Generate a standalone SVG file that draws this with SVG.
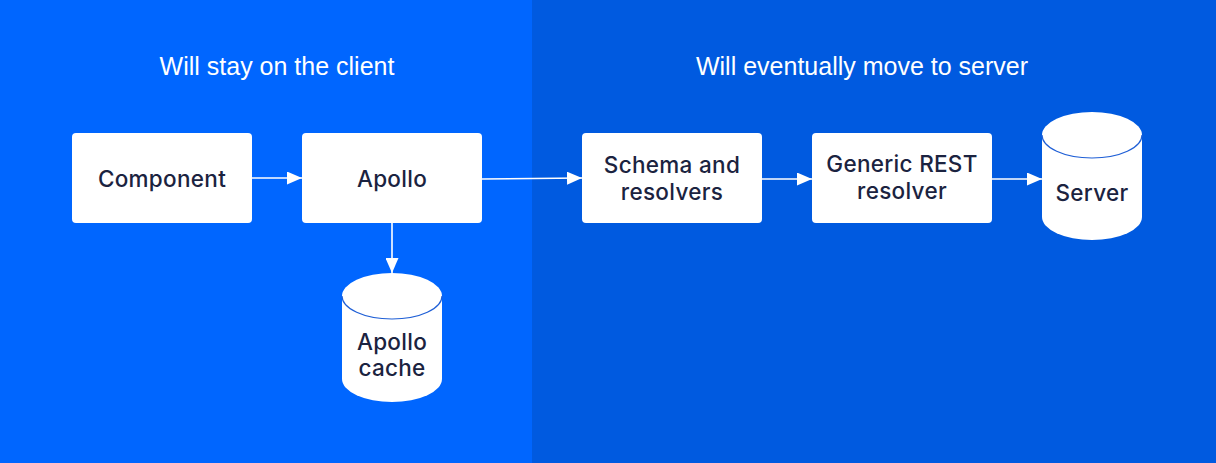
<svg xmlns="http://www.w3.org/2000/svg" width="1216" height="463" viewBox="0 0 1216 463">
<defs>
<style>
.hdr{font-family:"Liberation Sans",Arial,sans-serif;font-size:25px;fill:#ffffff;text-anchor:middle}
.lbl{font-family:Inter,"Liberation Sans",sans-serif;font-size:22.5px;letter-spacing:0.3px;font-weight:500;fill:#1b2340;text-anchor:middle}
.box{fill:#ffffff}
.cyl{fill:#ffffff}
.rim{fill:none;stroke:#1f5fd6;stroke-width:1.2}
.con{stroke:#ffffff;stroke-width:1.6;fill:none;marker-end:url(#ah)}
</style>
<marker id="ah" viewBox="0 0 15 13" refX="15" refY="6.5" markerWidth="15" markerHeight="13" markerUnits="userSpaceOnUse" orient="auto">
<path d="M0,0 L15,6.5 L0,13 Z" fill="#ffffff"/>
</marker>
</defs>
<rect x="0" y="0" width="532" height="463" fill="#0066ff"/>
<rect x="532" y="0" width="684" height="463" fill="#005ae0"/>
<text class="hdr" x="277" y="75">Will stay on the client</text>
<text class="hdr" x="862" y="75">Will eventually move to server</text>
<g id="connectors">
<line class="con" x1="252" y1="178" x2="302" y2="178"/>
<line class="con" x1="482" y1="179" x2="582" y2="178"/>
<line class="con" x1="762" y1="179" x2="812" y2="179"/>
<line class="con" x1="992" y1="179" x2="1042" y2="179"/>
<line class="con" x1="392" y1="223" x2="392" y2="273"/>
</g>
<g id="component">
<rect class="box" x="72" y="133" width="180" height="90" rx="4"/>
<text class="lbl" x="162" y="187">Component</text>
</g>
<g id="apollo">
<rect class="box" x="302" y="133" width="180" height="90" rx="4"/>
<text class="lbl" x="392" y="187">Apollo</text>
</g>
<g id="apollo-cache">
<path class="cyl" d="M342,296 A50,23 0 0 1 442,296 L442,379 A50,23 0 0 1 342,379 Z"/>
<path class="rim" d="M342,296 A50,23 0 0 0 442,296"/>
<text class="lbl" x="392" y="350">Apollo</text>
<text class="lbl" x="392" y="376">cache</text>
</g>
<g id="schema">
<rect class="box" x="582" y="133" width="180" height="90" rx="4"/>
<text class="lbl" x="672" y="173">Schema and</text>
<text class="lbl" x="672" y="200">resolvers</text>
</g>
<g id="generic-rest">
<rect class="box" x="812" y="133" width="180" height="90" rx="4"/>
<text class="lbl" x="902" y="172">Generic REST</text>
<text class="lbl" x="902" y="199">resolver</text>
</g>
<g id="server">
<path class="cyl" d="M1042,135 A50,23 0 0 1 1142,135 L1142,217 A50,23 0 0 1 1042,217 Z"/>
<path class="rim" d="M1042,135 A50,23 0 0 0 1142,135"/>
<text class="lbl" x="1092" y="201">Server</text>
</g>
</svg>
